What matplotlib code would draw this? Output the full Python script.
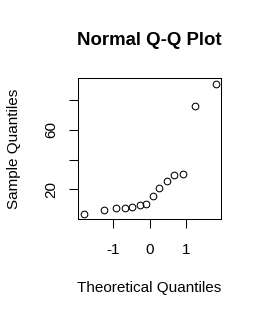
import matplotlib
matplotlib.use("Agg")
import matplotlib.pyplot as plt

# theoretical normal quantiles and sorted sample values
theoretical = [-1.80, -1.24, -0.92, -0.67, -0.47, -0.27, -0.09,
               0.09, 0.27, 0.47, 0.67, 0.92, 1.24, 1.80]
sample = [3.7, 6.6, 7.9, 7.9, 8.4, 9.7, 10.4,
          15.8, 20.7, 26.0, 29.9, 30.5, 75.7, 90.9]

x_ticks = [-1, 0, 1]
x_tick_labels = ["-1", "0", "1"]
y_ticks = [20, 40, 60, 80]
y_tick_labels = ["20", "", "60", ""]

plt.rcParams['font.family'] = ['Liberation Sans', 'DejaVu Sans']

fig = plt.figure(figsize=(2.61, 3.17), dpi=100)
ax = fig.add_axes([0.300, 0.309, 0.546, 0.444])

ax.plot(theoretical, sample, linestyle='none', marker='o', markersize=4.8,
        markerfacecolor='none', markeredgecolor='black', markeredgewidth=0.75)

pad_x = 0.04 * (max(theoretical) - min(theoretical))
pad_y = 0.04 * (max(sample) - min(sample))
ax.set_xlim(min(theoretical) - pad_x, max(theoretical) + pad_x)
ax.set_ylim(min(sample) - pad_y, max(sample) + pad_y)

ax.set_xticks(x_ticks)
ax.set_xticklabels(x_tick_labels)
ax.set_yticks(y_ticks)
ax.set_yticklabels(y_tick_labels, rotation=90, va='center')
ax.tick_params(length=6.5, width=0.75, labelsize=11)
ax.tick_params(axis='x', pad=11)
ax.tick_params(axis='y', pad=8)
for s in ax.spines.values():
    s.set_linewidth(0.75)

ax.set_title("Normal Q-Q Plot", fontsize=13.4, fontweight='bold', pad=24)
ax.set_xlabel("Theoretical Quantiles", fontsize=11, labelpad=17)
ax.set_ylabel("Sample Quantiles", fontsize=11, labelpad=17)

fig.savefig("out.png", dpi=100)
